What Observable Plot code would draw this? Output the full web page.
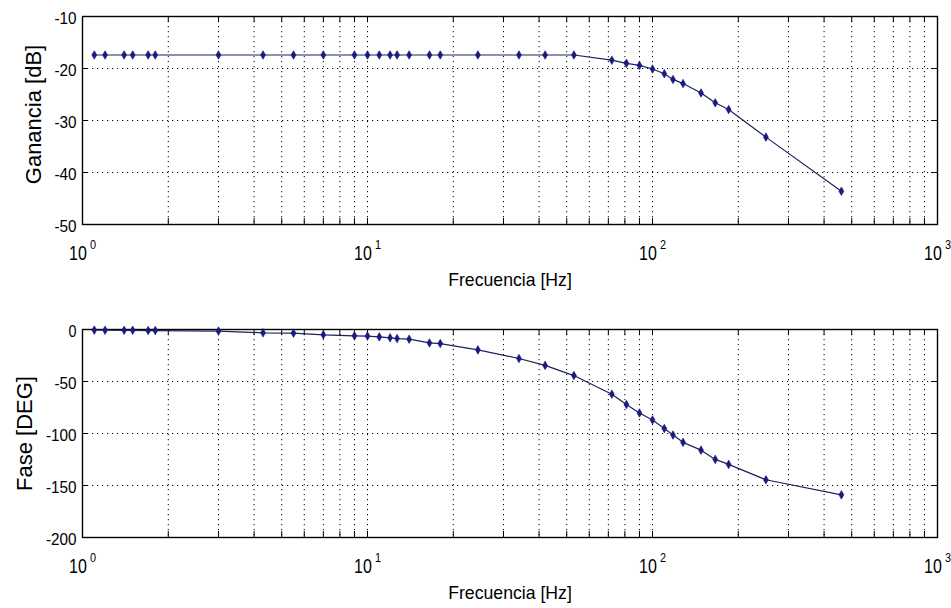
<!DOCTYPE html>
<html><head><meta charset="utf-8">
<script src="https://cdn.jsdelivr.net/npm/d3@7"></script>
<script src="https://cdn.jsdelivr.net/npm/@observablehq/plot@0.6"></script>
<style>
  html,body{margin:0;padding:0;background:#fff}
  #chart svg{display:block}
</style>
</head><body><div id="chart"></div>
<script>
// Frequencies (Hz) of the measured points
const freqs = [1.1, 1.2, 1.4, 1.5, 1.7, 1.8, 3, 4.3, 5.5, 7, 9, 10, 11, 12, 12.7, 14, 16.5, 18,
  24.4, 34, 42, 53, 72, 81, 90, 100, 110, 118, 128, 148, 166, 185, 250, 460];
// Gain (dB)
const gainDb = [-17.4, -17.4, -17.4, -17.4, -17.4, -17.4, -17.4, -17.4, -17.4, -17.4, -17.4, -17.4,
  -17.4, -17.4, -17.4, -17.4, -17.4, -17.4, -17.4, -17.4, -17.4, -17.4,
  -18.4, -19.0, -19.4, -20.1, -21.0, -22.1, -22.9, -24.7, -26.6, -27.9, -33.2, -43.6];
// Phase (deg)
const phaseDeg = [-0.6, -0.7, -0.8, -0.8, -1.0, -1.0, -1.5, -3.2, -3.5, -5.1, -6.1, -6.3,
  -7.1, -8.0, -8.7, -9.3, -12.9, -13.5, -19.6, -27.9, -34.5, -44.3,
  -62.2, -72.1, -80.3, -87.0, -95.2, -101.5, -108.5, -116.0, -124.9, -129.7, -144.5, -159.0];

const xMajorTicks = [1, 10, 100, 1000];
const xExponents = ["0", "1", "2", "3"];
const xAllTicks = [1, 2, 3, 4, 5, 6, 7, 8, 9, 10, 20, 30, 40, 50, 60, 70, 80, 90,
  100, 200, 300, 400, 500, 600, 700, 800, 900, 1000];
const gainTicks = [-10, -20, -30, -40, -50];
const phaseTicks = [0, -50, -100, -150, -200];
const xLabel = "Frecuencia [Hz]";
const gainLabel = "Ganancia [dB]";
const phaseLabel = "Fase [DEG]";

function panel({values, yDomain, yTicks, yLabel, height, marginTop, marginBottom, labelDx, labelDy}) {
  const W = 951, mL = 82, mR = 14;
  const fw = W - mL - mR, fh = height - marginTop - marginBottom;
  const data = freqs.map((f, i) => ({f, v: values[i]}));
  const grid = xAllTicks.filter(t => t > 1 && t < 1000);
  const yGrid = yTicks.filter(t => t !== yDomain[0] && t !== yDomain[1]);
  const tk = 6;
  return Plot.plot({
    width: W, height, marginTop, marginBottom, marginLeft: mL, marginRight: mR,
    style: {fontFamily: "'Liberation Sans', Arial, Helvetica, sans-serif", background: "#fff", color: "#000", overflow: "visible"},
    x: {type: "log", domain: [1, 1000], axis: null},
    y: {domain: yDomain, axis: null},
    marks: [
      Plot.ruleX(grid, {x: d => d, stroke: "#000", strokeDasharray: "1.2,3.8", strokeWidth: 1}),
      Plot.ruleY(yGrid, {y: d => d, stroke: "#000", strokeDasharray: "1.2,3.8", strokeWidth: 1}),
      Plot.tickX(xAllTicks, {x: d => d, insetTop: fh - tk, stroke: "#000"}),
      Plot.tickX(xAllTicks, {x: d => d, insetBottom: fh - tk, stroke: "#000"}),
      Plot.tickY(yTicks, {y: d => d, insetRight: fw - tk, stroke: "#000"}),
      Plot.tickY(yTicks, {y: d => d, insetLeft: fw - tk, stroke: "#000"}),
      Plot.frame({stroke: "#000", strokeWidth: 1.4}),
      Plot.line(data, {x: "f", y: "v", stroke: "#20205e", strokeWidth: 1.2}),
      Plot.dot(data, {x: "f", y: "v", symbol: "diamond", r: 2.6, fill: "#1a1a80", stroke: "#1a1a80", strokeWidth: 0.6}),
      Plot.text(yTicks, {y: d => d, text: d => String(d), frameAnchor: "left", textAnchor: "end", dx: -6, dy: 2, fontSize: 17}),
      Plot.text(xMajorTicks, {x: d => d, text: d => "10", frameAnchor: "bottom", lineAnchor: "bottom", dy: 35, dx: -4.5, fontSize: 20}),
      Plot.text(xMajorTicks, {x: d => d, text: (d, i) => xExponents[i], frameAnchor: "bottom", lineAnchor: "bottom", dy: 24, dx: 7.5, textAnchor: "start", fontSize: 13}),
      Plot.text([xLabel], {text: d => d, frameAnchor: "bottom", lineAnchor: "bottom", dy: 61, fontSize: 19}),
      Plot.text([yLabel], {text: d => d, frameAnchor: "left", textAnchor: "middle", rotate: -90, lineAnchor: "bottom", dx: labelDx, dy: labelDy, fontSize: 22})
    ]
  });
}

const gainChart = panel({values: gainDb, yDomain: [-50, -10], yTicks: gainTicks, yLabel: gainLabel,
  height: 300, marginTop: 16, marginBottom: 76, labelDx: -42, labelDy: -6});
const phaseChart = panel({values: phaseDeg, yDomain: [-200, 0], yTicks: phaseTicks, yLabel: phaseLabel,
  height: 308, marginTop: 29, marginBottom: 71, labelDx: -51, labelDy: 0});

const root = document.getElementById("chart");
root.appendChild(gainChart);
root.appendChild(phaseChart);

// narrow the horizontal texts a little, like the reference lettering
root.querySelectorAll("text").forEach(t => {
  const s = t.textContent;
  let k = null;
  if (s === "10") k = 0.8;
  else if (s === xLabel) k = 0.93;
  else if (/^-?\d+$/.test(s)) k = s.length === 1 ? 0.85 : 0.9;
  if (k) {
    const L = t.getComputedTextLength();
    t.setAttribute("textLength", (L * k).toFixed(1));
    t.setAttribute("lengthAdjust", "spacingAndGlyphs");
  }
});
</script>
</body></html>
